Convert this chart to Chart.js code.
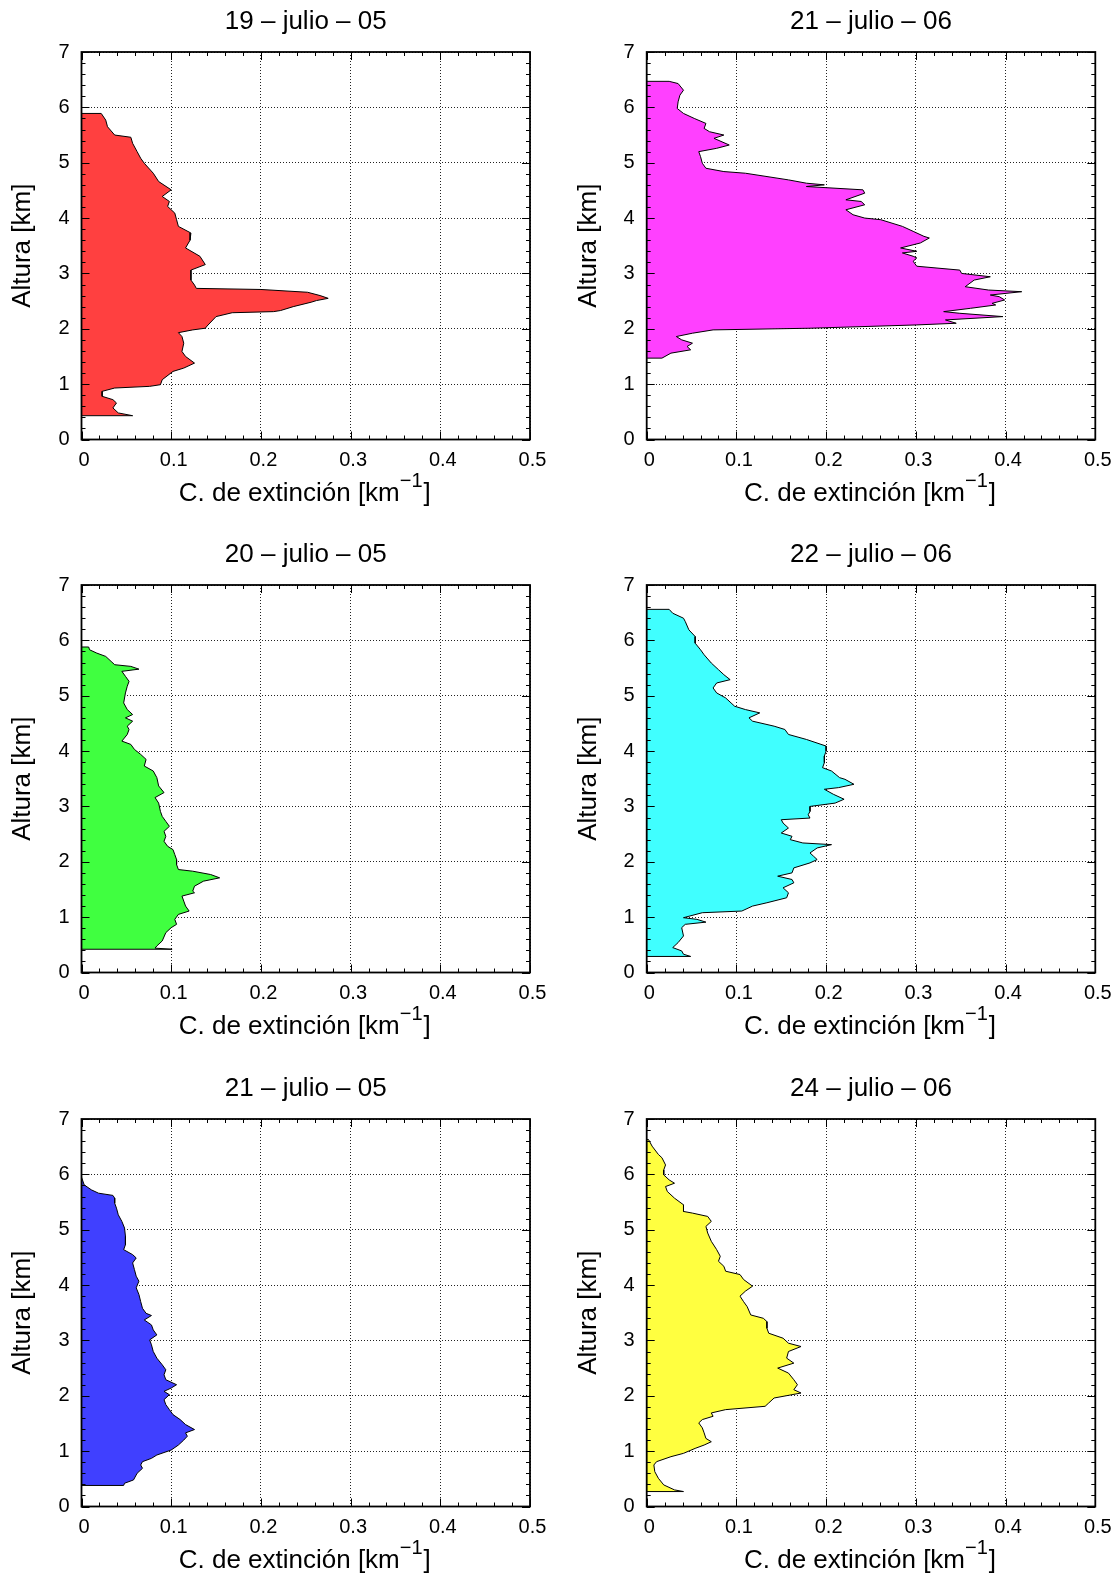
<!DOCTYPE html>
<html>
<head>
<meta charset="utf-8">
<script src="https://cdn.jsdelivr.net/npm/chart.js@4.4.1/dist/chart.umd.min.js"></script>
<style>
html, body { margin: 0; padding: 0; background: #fff; width: 1120px; height: 1578px; overflow: hidden; }
canvas { position: absolute; }
</style>
</head>
<body>
<script>
// ---------- DATA: [altitude km, extinction km^-1], read top to bottom ----------
const perfil19jul05 = [
  [5.89,0],[5.89,0.022],[5.77,0.027],[5.65,0.029],[5.50,0.037],[5.46,0.055],[5.35,0.057],[5.20,0.062],
  [5.08,0.066],[4.99,0.070],[4.81,0.080],[4.66,0.086],[4.51,0.100],[4.39,0.090],[4.30,0.098],[4.21,0.096],
  [4.09,0.104],[3.97,0.106],[3.85,0.108],[3.73,0.122],[3.60,0.121],[3.46,0.116],[3.31,0.132],[3.16,0.138],
  [3.06,0.122],[2.88,0.122],[2.79,0.126],[2.73,0.128],[2.71,0.200],[2.66,0.252],[2.60,0.266],[2.55,0.275],
  [2.51,0.262],[2.48,0.256],[2.40,0.236],[2.33,0.222],[2.31,0.214],[2.29,0.168],[2.22,0.150],[2.05,0.140],
  [2.01,0.138],[1.98,0.124],[1.93,0.108],[1.86,0.112],[1.74,0.114],[1.59,0.112],[1.50,0.116],[1.38,0.126],
  [1.29,0.114],[1.23,0.102],[1.08,0.090],[0.99,0.088],[0.96,0.076],[0.93,0.037],[0.87,0.023],[0.78,0.023],
  [0.72,0.035],[0.66,0.039],[0.57,0.035],[0.48,0.041],[0.43,0.057],[0.43,0]
];
const perfil21jul06 = [
  [6.47,0],[6.47,0.025],[6.43,0.035],[6.31,0.041],[6.22,0.037],[6.10,0.035],[5.98,0.034],[5.89,0.041],
  [5.80,0.053],[5.71,0.066],[5.62,0.064],[5.56,0.070],[5.50,0.086],[5.44,0.075],[5.32,0.092],[5.26,0.078],
  [5.20,0.058],[5.11,0.060],[4.99,0.062],[4.90,0.066],[4.84,0.086],[4.81,0.110],[4.69,0.158],[4.63,0.178],
  [4.60,0.198],[4.57,0.178],[4.51,0.241],[4.45,0.243],[4.33,0.222],[4.30,0.239],[4.24,0.243],[4.15,0.222],
  [4.06,0.230],[4.00,0.243],[3.97,0.261],[3.85,0.285],[3.76,0.297],[3.67,0.309],[3.64,0.315],[3.55,0.305],
  [3.46,0.283],[3.40,0.301],[3.37,0.285],[3.31,0.297],[3.28,0.301],[3.22,0.297],[3.13,0.301],[3.06,0.349],
  [3.00,0.351],[2.94,0.383],[2.88,0.365],[2.76,0.355],[2.70,0.381],[2.67,0.418],[2.61,0.383],[2.58,0.393],
  [2.52,0.399],[2.46,0.385],[2.43,0.389],[2.37,0.361],[2.31,0.331],[2.28,0.349],[2.22,0.397],[2.16,0.333],
  [2.10,0.345],[2.07,0.301],[2.01,0.182],[1.98,0.074],[1.92,0.051],[1.86,0.033],[1.80,0.039],[1.74,0.051],
  [1.68,0.045],[1.62,0.049],[1.56,0.027],[1.47,0.017],[1.47,0]
];
const perfil20jul05 = [
  [5.88,0],[5.88,0.008],[5.83,0.009],[5.77,0.017],[5.71,0.027],[5.62,0.033],[5.56,0.037],[5.53,0.055],
  [5.48,0.064],[5.44,0.045],[5.35,0.049],[5.26,0.053],[5.17,0.051],[5.05,0.049],[4.87,0.047],[4.75,0.051],
  [4.66,0.057],[4.60,0.049],[4.54,0.057],[4.45,0.051],[4.39,0.053],[4.30,0.051],[4.18,0.045],[4.12,0.055],
  [4.03,0.059],[3.94,0.066],[3.85,0.072],[3.73,0.070],[3.64,0.080],[3.52,0.084],[3.37,0.086],[3.25,0.092],
  [3.16,0.082],[3.06,0.086],[2.91,0.088],[2.82,0.090],[2.73,0.094],[2.64,0.098],[2.55,0.092],[2.46,0.094],
  [2.37,0.092],[2.28,0.096],[2.22,0.102],[2.13,0.104],[2.04,0.106],[1.95,0.106],[1.86,0.108],[1.83,0.124],
  [1.77,0.144],[1.71,0.154],[1.65,0.136],[1.56,0.126],[1.47,0.124],[1.44,0.126],[1.38,0.112],[1.29,0.114],
  [1.20,0.116],[1.11,0.120],[1.05,0.108],[0.96,0.104],[0.87,0.106],[0.81,0.100],[0.72,0.094],[0.57,0.090],
  [0.48,0.084],[0.44,0.082],[0.42,0.101],[0.42,0]
];
const perfil22jul06 = [
  [6.56,0],[6.56,0.025],[6.49,0.029],[6.40,0.041],[6.34,0.043],[6.19,0.047],[6.07,0.054],[5.95,0.054],
  [5.83,0.060],[5.74,0.064],[5.59,0.072],[5.47,0.080],[5.38,0.086],[5.29,0.093],[5.23,0.078],[5.14,0.074],
  [5.05,0.078],[4.96,0.088],[4.87,0.094],[4.81,0.098],[4.75,0.110],[4.69,0.126],[4.60,0.114],[4.54,0.118],
  [4.45,0.142],[4.39,0.154],[4.30,0.158],[4.21,0.178],[4.09,0.200],[4.00,0.200],[3.91,0.198],[3.79,0.198],
  [3.70,0.196],[3.64,0.206],[3.52,0.215],[3.49,0.221],[3.40,0.231],[3.34,0.214],[3.31,0.198],[3.22,0.208],
  [3.13,0.220],[3.06,0.210],[3.00,0.182],[2.91,0.182],[2.85,0.180],[2.79,0.182],[2.76,0.150],[2.70,0.152],
  [2.61,0.158],[2.52,0.150],[2.46,0.162],[2.40,0.160],[2.34,0.174],[2.31,0.206],[2.25,0.190],[2.16,0.182],
  [2.10,0.186],[2.04,0.190],[1.98,0.182],[1.89,0.164],[1.80,0.162],[1.74,0.146],[1.68,0.162],[1.62,0.164],
  [1.53,0.152],[1.44,0.158],[1.35,0.156],[1.26,0.134],[1.20,0.118],[1.11,0.106],[1.08,0.062],[0.99,0.041],
  [0.96,0.056],[0.91,0.066],[0.87,0.043],[0.81,0.039],[0.66,0.041],[0.54,0.035],[0.45,0.029],[0.39,0.039],
  [0.33,0.041],[0.29,0.049],[0.29,0]
];
const perfil21jul05 = [
  [5.95,0],[5.81,0.003],[5.72,0.011],[5.66,0.019],[5.62,0.035],[5.57,0.037],[5.48,0.037],[5.39,0.039],
  [5.27,0.041],[5.15,0.045],[5.03,0.048],[4.88,0.049],[4.73,0.049],[4.64,0.047],[4.55,0.057],[4.49,0.061],
  [4.40,0.057],[4.28,0.059],[4.16,0.061],[4.07,0.064],[3.95,0.061],[3.83,0.064],[3.70,0.066],[3.58,0.068],
  [3.49,0.072],[3.45,0.078],[3.37,0.070],[3.28,0.078],[3.19,0.080],[3.10,0.084],[3.01,0.076],[2.92,0.078],
  [2.80,0.080],[2.68,0.084],[2.56,0.090],[2.47,0.094],[2.38,0.092],[2.29,0.094],[2.20,0.106],[2.14,0.100],
  [2.08,0.092],[2.02,0.098],[1.93,0.092],[1.84,0.094],[1.75,0.098],[1.66,0.102],[1.57,0.110],[1.48,0.116],
  [1.39,0.126],[1.33,0.116],[1.27,0.118],[1.20,0.114],[1.11,0.108],[1.02,0.100],[0.93,0.084],[0.87,0.078],
  [0.81,0.068],[0.75,0.066],[0.69,0.068],[0.60,0.062],[0.48,0.058],[0.42,0.048],[0.38,0.047],[0.38,0]
];
const perfil24jul06 = [
  [6.63,0],[6.63,0.002],[6.51,0.006],[6.36,0.013],[6.30,0.017],[6.17,0.021],[6.08,0.019],[5.99,0.019],
  [5.90,0.025],[5.84,0.031],[5.78,0.021],[5.69,0.023],[5.57,0.031],[5.45,0.041],[5.33,0.041],[5.30,0.051],
  [5.24,0.068],[5.15,0.072],[5.06,0.066],[4.94,0.068],[4.79,0.072],[4.64,0.078],[4.52,0.082],[4.43,0.080],
  [4.34,0.086],[4.25,0.088],[4.19,0.104],[4.10,0.108],[3.98,0.118],[3.89,0.110],[3.80,0.104],[3.70,0.108],
  [3.61,0.112],[3.46,0.116],[3.40,0.130],[3.34,0.134],[3.22,0.134],[3.13,0.136],[3.04,0.152],[2.95,0.158],
  [2.89,0.172],[2.80,0.158],[2.68,0.156],[2.59,0.164],[2.50,0.146],[2.41,0.158],[2.29,0.164],[2.20,0.168],
  [2.11,0.164],[2.05,0.172],[1.96,0.142],[1.87,0.136],[1.81,0.132],[1.75,0.088],[1.69,0.072],[1.63,0.074],
  [1.57,0.062],[1.51,0.058],[1.42,0.062],[1.33,0.064],[1.23,0.066],[1.17,0.072],[1.11,0.064],[1.05,0.054],
  [0.96,0.041],[0.90,0.027],[0.81,0.011],[0.75,0.008],[0.63,0.009],[0.51,0.013],[0.39,0.019],[0.30,0.031],
  [0.27,0.041],[0.27,0]
];

const panelTitles = ['19 – julio – 05', '21 – julio – 06', '20 – julio – 05', '22 – julio – 06', '21 – julio – 05', '24 – julio – 06'];
const xTickLabels = ['0', '0.1', '0.2', '0.3', '0.4', '0.5'];
const yTickLabels = ['0', '1', '2', '3', '4', '5', '6', '7'];
const yAxisTitle = 'Altura [km]';
const xAxisTitleParts = ['C. de extinción [km', '−1', ']'];

// ---------- STYLE / LAYOUT ----------
const profiles = [perfil19jul05, perfil21jul06, perfil20jul05, perfil22jul06, perfil21jul05, perfil24jul06];
const fillColors = ['#ff4040', '#ff40ff', '#40ff40', '#40ffff', '#4040ff', '#ffff40'];
const FONT = '"Liberation Sans", Arial, Helvetica, sans-serif';
const colLeft = [0, 560];
const plotLeftAbs = [81.5, 646.7];
const plotRightAbs = [530, 1095.3];
const rowTop = [0, 533, 1067];
const CANVAS_W = 560, CANVAS_H = 511, PLOT_TOP = 52, PLOT_BOTTOM = 439.5;
const BIG = 26, SMALL = 20, SUP = 20;

const frameTicksPlugin = {
  id: 'frameTicks',
  afterDatasetsDraw(chart) {
    const { ctx, chartArea: a, scales: { x, y } } = chart;
    ctx.save();
    ctx.strokeStyle = '#000';
    ctx.lineWidth = 1;
    ctx.beginPath();
    for (let i = 0; i <= 25; i++) {
      const px = Math.round(x.getPixelForValue(i * 0.02)) + 0.5;
      const len = i % 5 === 0 ? 8 : 4;
      ctx.moveTo(px, a.bottom); ctx.lineTo(px, a.bottom - len);
      ctx.moveTo(px, a.top); ctx.lineTo(px, a.top + len);
    }
    for (let j = 0; j <= 35; j++) {
      const py = Math.round(y.getPixelForValue(j * 0.2)) + 0.5;
      const len = j % 5 === 0 ? 8 : 4;
      ctx.moveTo(a.left, py); ctx.lineTo(a.left + len, py);
      ctx.moveTo(a.right, py); ctx.lineTo(a.right - len, py);
    }
    ctx.stroke();
    ctx.lineWidth = 1.8;
    ctx.strokeRect(a.left, a.top, a.right - a.left, a.bottom - a.top);
    ctx.restore();
  },
  afterDraw(chart) {
    const { ctx, chartArea: a } = chart;
    ctx.save();
    ctx.fillStyle = '#000';
    ctx.textBaseline = 'alphabetic';
    ctx.textAlign = 'left';
    const mainFont = BIG + 'px ' + FONT, supFont = SUP + 'px ' + FONT;
    ctx.font = mainFont;
    const w1 = ctx.measureText(xAxisTitleParts[0]).width;
    const w3 = ctx.measureText(xAxisTitleParts[2]).width;
    ctx.font = supFont;
    const w2 = ctx.measureText(xAxisTitleParts[1]).width;
    const gap = 1;
    const total = w1 + w2 + gap + w3;
    const x0 = (a.left + a.right) / 2 - total / 2 - 1;
    const base = a.bottom + 61.2;
    ctx.font = mainFont;
    ctx.fillText(xAxisTitleParts[0], x0, base);
    ctx.font = supFont;
    ctx.fillText(xAxisTitleParts[1], x0 + w1, base - 13.5);
    ctx.font = mainFont;
    ctx.fillText(xAxisTitleParts[2], x0 + w1 + w2 + gap, base);
    ctx.restore();
  }
};

profiles.forEach((profile, k) => {
  const col = k % 2, row = Math.floor(k / 2);
  const canvas = document.createElement('canvas');
  canvas.width = CANVAS_W; canvas.height = CANVAS_H;
  canvas.style.left = colLeft[col] + 'px';
  canvas.style.top = rowTop[row] + 'px';
  canvas.style.width = CANVAS_W + 'px';
  canvas.style.height = CANVAS_H + 'px';
  document.body.appendChild(canvas);

  const yAxisWidth = plotLeftAbs[col] - colLeft[col];
  const rightPad = colLeft[col] + CANVAS_W - plotRightAbs[col];
  const bigLH = BIG * 1.2;
  const yTitlePad = yAxisWidth - 49.2 - 0.3465 * BIG - bigLH / 2;
  const titleMid = 30 - 0.3465 * BIG + 1.2;
  const titlePadTop = titleMid - bigLH / 2;

  const gridOpts = { color: '#222', lineWidth: 1, drawTicks: false };
  const borderOpts = { display: false, dash: [1, 2] };

  new Chart(canvas, {
    type: 'line',
    data: {
      datasets: [{
        data: profile.map(([alt, ext]) => ({ x: ext, y: alt })),
        borderColor: '#000',
        borderWidth: 1,
        backgroundColor: fillColors[k],
        fill: 'origin',
        pointRadius: 0,
        tension: 0
      }]
    },
    options: {
      indexAxis: 'y',
      responsive: false,
      animation: false,
      events: [],
      layout: { padding: { left: 0, top: 0, right: rightPad, bottom: 0 } },
      plugins: {
        legend: { display: false },
        tooltip: { enabled: false },
        title: {
          display: true, text: panelTitles[k], fullSize: false, color: '#000',
          font: { family: FONT, size: BIG, weight: 'normal', lineHeight: 1.2 },
          padding: { top: titlePadTop, bottom: PLOT_TOP - titlePadTop - bigLH }
        }
      },
      scales: {
        x: {
          type: 'linear', position: 'bottom', min: 0, max: 0.5,
          afterFit: s => { s.height = CANVAS_H - PLOT_BOTTOM; },
          ticks: {
            stepSize: 0.1, color: '#000', font: { family: FONT, size: SMALL },
            padding: 467.3 - 0.3465 * SMALL - PLOT_BOTTOM - SMALL * 0.6,
            labelOffset: 2.5, maxRotation: 0, autoSkip: false,
            callback: (v, i) => xTickLabels[i]
          },
          grid: gridOpts, border: borderOpts
        },
        y: {
          type: 'linear', position: 'left', min: 0, max: 7,
          afterFit: s => { s.width = yAxisWidth; },
          ticks: {
            stepSize: 1, color: '#000', font: { family: FONT, size: SMALL },
            padding: 12, autoSkip: false,
            callback: (v, i) => yTickLabels[i]
          },
          grid: gridOpts, border: borderOpts,
          title: {
            display: true, text: yAxisTitle, color: '#000',
            font: { family: FONT, size: BIG, weight: 'normal', lineHeight: 1.2 },
            padding: { top: yTitlePad, bottom: 0 }
          }
        }
      }
    },
    plugins: [frameTicksPlugin]
  });
});
</script>
</body>
</html>
